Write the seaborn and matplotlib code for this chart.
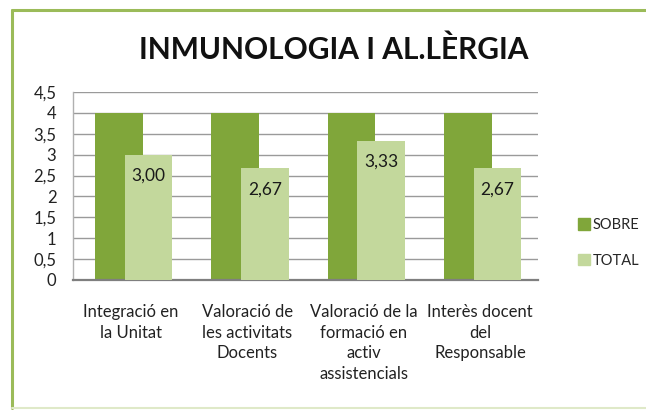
import pandas as pd
import matplotlib
matplotlib.use('Agg')
import matplotlib.pyplot as plt
import seaborn as sns
from matplotlib.patches import Patch
from matplotlib.lines import Line2D

categories = ['Integració en\nla Unitat',
              'Valoració de\nles activitats\nDocents',
              'Valoració de la\nformació en\nactiv\nassistencials',
              'Interès docent\ndel\nResponsable']
sobre = [4, 4, 4, 4]
total = [3.00, 2.67, 3.33, 2.67]

SOBRE_COLOR = '#80a63a'
TOTAL_COLOR = '#c3d89c'

sns.set_theme(style='white')
plt.rcParams['font.family'] = ['Lato', 'DejaVu Sans']

df = pd.DataFrame({'cat': categories, 'sobre': sobre, 'total': total})

fig = plt.figure(figsize=(6.46, 4.12), dpi=100)
ax = fig.add_axes([0.113, 0.3204, 0.72, 0.4563])

# two overlapping series, like the excel chart
sns.barplot(data=df, x='cat', y='sobre', color=SOBRE_COLOR, width=0.41,
            saturation=1, ax=ax, zorder=2)
n_sobre = len(ax.patches)
sns.barplot(data=df, x='cat', y='total', color=TOTAL_COLOR, width=0.41,
            saturation=1, ax=ax, zorder=3)

for i, p in enumerate(ax.patches):
    shift = -0.105 if i < n_sobre else 0.15
    p.set_x(p.get_x() + shift)
    p.set_linewidth(0)

tot_cont = ax.containers[1]
ax.bar_label(tot_cont, labels=[f'{v:.2f}'.replace('.', ',') for v in total],
             padding=-21, fontsize=12.5, color='#1a1a1a')

ax.set_xlim(-0.5, 3.5)
ax.set_ylim(0, 4.5)
ax.set_yticks([i * 0.5 for i in range(10)])
ax.set_yticklabels([f'{i * 0.5:g}'.replace('.', ',') for i in range(10)],
                   fontsize=12, color='#222222')
ax.set_xticks(range(4))
ax.set_xticklabels(categories, fontsize=12, color='#222222', linespacing=1.38,
                   va='top')
ax.tick_params(axis='x', length=0, pad=17)
ax.tick_params(axis='y', length=0, pad=12)
ax.set_xlabel('')
ax.set_ylabel('')
ax.grid(axis='y', color='#9a9a9a', linewidth=1, zorder=0)
ax.set_axisbelow(True)
for s in ['top', 'right']:
    ax.spines[s].set_visible(False)
ax.spines['left'].set_color('#b0b0b0')
ax.spines['left'].set_linewidth(1)
ax.spines['bottom'].set_color('#7f7f7f')
ax.spines['bottom'].set_linewidth(1.6)

fig.text(334 / 646, 1 - 50 / 412, 'INMUNOLOGIA I AL.LÈRGIA', ha='center',
         va='center', fontsize=21.5, fontweight='bold', color='#111111')

handles = [Patch(color=SOBRE_COLOR, label='SOBRE'),
           Patch(color=TOTAL_COLOR, label='TOTAL')]
fig.legend(handles=handles, loc='center left',
           bbox_to_anchor=(571 / 646, 1 - 243 / 412), frameon=False,
           fontsize=10.5, handlelength=0.8, handleheight=0.8,
           handletextpad=0.2, labelspacing=1.5, borderpad=0)

# green frame round the chart (runs off the right edge)
x0, y0, yb = 12 / 646, 1 - 10 / 412, 4 / 412
fig.add_artist(Line2D([x0, x0], [yb, y0], transform=fig.transFigure,
                      color='#9bbb59', linewidth=2.2))
fig.add_artist(Line2D([x0, 1.0], [y0, y0], transform=fig.transFigure,
                      color='#9bbb59', linewidth=2.2))
fig.add_artist(Line2D([x0, 1.0], [yb, yb], transform=fig.transFigure,
                      color='#dfe9c8', linewidth=1.5))

plt.savefig('out.png', dpi=100)
